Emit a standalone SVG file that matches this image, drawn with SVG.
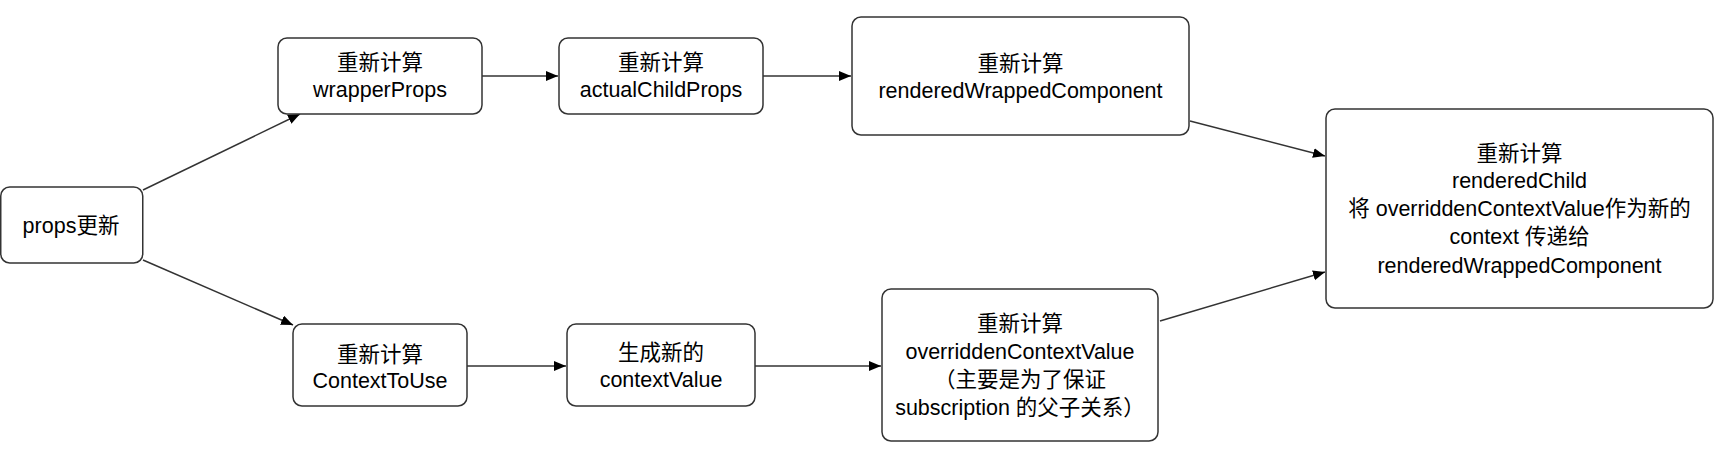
<svg xmlns="http://www.w3.org/2000/svg" width="1728" height="468" viewBox="0 0 1728 468">
<style>
.box{fill:#fff;stroke:#333;stroke-width:1.5}
.t{font-family:"Liberation Sans","Noto Sans CJK SC",sans-serif;font-size:21.5px;fill:#000;text-anchor:middle}
.c{fill:none;stroke:#333;stroke-width:1.5;marker-end:url(#arr)}
</style>
<defs>
<marker id="arr" markerUnits="userSpaceOnUse" markerWidth="13" markerHeight="11" refX="12" refY="5" orient="auto">
<path d="M0,0 L12,5 L0,10 Z" fill="#000"/>
</marker>
</defs>
<rect width="1728" height="468" fill="#fff"/>
<g id="connectors">
<line class="c" x1="143" y1="190" x2="300" y2="114"/>
<line class="c" x1="143" y1="260" x2="293" y2="325"/>
<line class="c" x1="482" y1="76" x2="558" y2="76"/>
<line class="c" x1="763" y1="76" x2="851" y2="76"/>
<line class="c" x1="467" y1="366" x2="566" y2="366"/>
<line class="c" x1="755" y1="366" x2="881" y2="366"/>
<line class="c" x1="1190" y1="121" x2="1325" y2="156"/>
<line class="c" x1="1160" y1="321" x2="1325" y2="272"/>
</g>
<g id="props">
<rect class="box" x="0.75" y="187" width="142" height="76" rx="9"/>
<text class="t" x="71" y="233">props更新</text>
</g>
<g id="wrapperProps">
<rect class="box" x="278" y="38" width="204" height="76" rx="9"/>
<text class="t" x="380" y="70">重新计算</text>
<text class="t" x="380" y="97">wrapperProps</text>
</g>
<g id="actualChildProps">
<rect class="box" x="559" y="38" width="204" height="76" rx="9"/>
<text class="t" x="661" y="70">重新计算</text>
<text class="t" x="661" y="97">actualChildProps</text>
</g>
<g id="renderedWrappedComponent">
<rect class="box" x="852" y="17" width="337" height="118" rx="9"/>
<text class="t" x="1020.5" y="71">重新计算</text>
<text class="t" x="1020.5" y="98">renderedWrappedComponent</text>
</g>
<g id="renderedChild">
<rect class="box" x="1326" y="109" width="387" height="199" rx="9"/>
<text class="t" x="1519.5" y="161">重新计算</text>
<text class="t" x="1519.5" y="188">renderedChild</text>
<text class="t" x="1519.5" y="216">将 overriddenContextValue作为新的</text>
<text class="t" x="1519.5" y="244">context 传递给</text>
<text class="t" x="1519.5" y="273">renderedWrappedComponent</text>
</g>
<g id="ContextToUse">
<rect class="box" x="293" y="324" width="174" height="82" rx="9"/>
<text class="t" x="380" y="362">重新计算</text>
<text class="t" x="380" y="388">ContextToUse</text>
</g>
<g id="contextValue">
<rect class="box" x="567" y="324" width="188" height="82" rx="9"/>
<text class="t" x="661" y="360">生成新的</text>
<text class="t" x="661" y="387">contextValue</text>
</g>
<g id="overriddenContextValue">
<rect class="box" x="882" y="289" width="276" height="152" rx="9"/>
<text class="t" x="1020" y="331">重新计算</text>
<text class="t" x="1020" y="359">overriddenContextValue</text>
<text class="t" x="1020" y="387">（主要是为了保证</text>
<text class="t" x="1020" y="415">subscription 的父子关系）</text>
</g>
</svg>
